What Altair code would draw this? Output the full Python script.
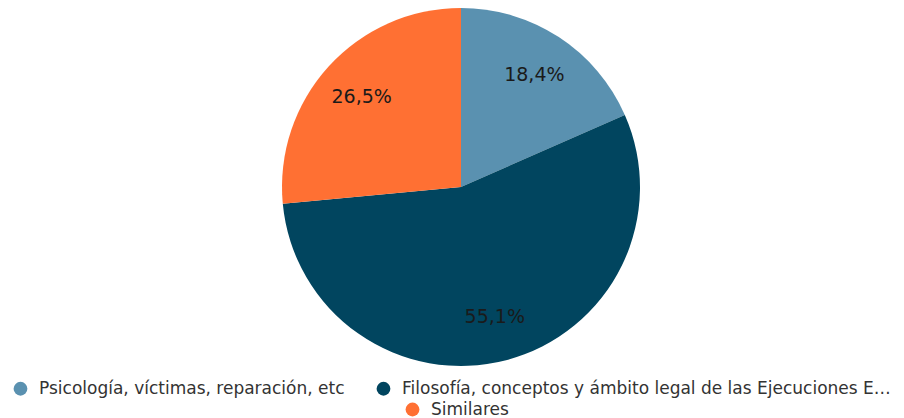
import altair as alt
import pandas as pd

categories = [
    "Psicología, víctimas, reparación, etc",
    "Filosofía, conceptos y ámbito legal de las Ejecuciones Extrajudiciales",
    "Similares",
]
values = [18.4, 55.1, 26.5]
labels = ["18,4%", "55,1%", "26,5%"]
order = [0, 1, 2]
colors = ["#5A91B0", "#01455F", "#FF7033"]

df = pd.DataFrame({"cat": categories, "value": values, "label": labels, "order": order})

R = 179
CX, CY = 461, 187
FONT = "DejaVu Sans"

theta = alt.Theta("value:Q", stack=True)
ordr = alt.Order("order:Q")

arcs = alt.Chart(df).mark_arc(radius=R, x=CX, y=CY).encode(
    theta=theta,
    order=ordr,
    color=alt.Color(
        "cat:N",
        scale=alt.Scale(domain=categories, range=colors),
        legend=alt.Legend(
            orient="none",
            legendX=12,
            legendY=380,
            direction="horizontal",
            columns=2,
            values=categories[:2],
            columnPadding=30,
        ),
    ),
)

extra = alt.Chart(df[df["cat"] == categories[2]]).mark_arc(
    radius=R, x=CX, y=CY, opacity=0
).encode(
    theta=theta,
    fill=alt.Fill(
        "cat:N",
        scale=alt.Scale(domain=[categories[2]], range=[colors[2]]),
        legend=alt.Legend(
            orient="none",
            legendX=404,
            legendY=401,
            symbolOpacity=1,
        ),
    ),
)

text = alt.Chart(df).mark_text(
    radius=R * 0.75, x=CX, y=CY, font=FONT, fontSize=19, color="#1a1a1a"
).encode(
    theta=theta,
    order=ordr,
    text="label:N",
)

chart = (
    alt.layer(arcs, extra, text)
    .resolve_scale(color="independent", fill="independent")
    .properties(
        width=904,
        height=418,
        autosize=alt.AutoSizeParams(type="none"),
        padding=0,
    )
    .configure_view(stroke=None)
    .configure_legend(
        title=None,
        labelFont=FONT,
        labelFontSize=17,
        labelColor="#333333",
        symbolType="circle",
        symbolSize=190,
        symbolStrokeWidth=0,
        labelOffset=10,
        labelLimit=490,
    )
)

chart.save("out.html", embed_options={"renderer": "svg", "actions": False})
